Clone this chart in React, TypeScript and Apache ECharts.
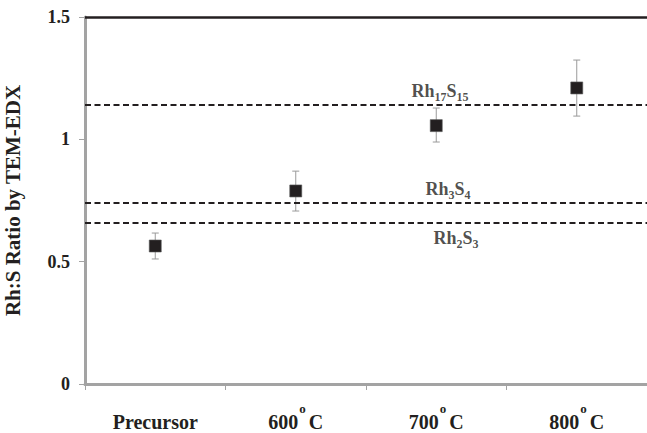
import React, { useEffect, useRef } from "react";
import * as echarts from "echarts";

// Samples on the x axis
const categories = ["Precursor", "600°C", "700°C", "800°C"];
// Measured Rh:S ratio and the ends of each error bar
const ratio = [0.564, 0.789, 1.056, 1.21];
const errLow = [0.511, 0.707, 0.989, 1.095];
const errHigh = [0.617, 0.87, 1.128, 1.324];
// Reference stoichiometries drawn as dashed lines
const phaseNames = ["Rh17S15", "Rh3S4", "Rh2S3"];
const phaseRatios = [1.143, 0.743, 0.658];
// Y axis ticks
const yTicks = { min: 0, max: 1.5, interval: 0.5 };

const SERIF = "'Liberation Serif', 'Times New Roman', serif";
const INK = "#231f20";
const AXIS_GREY = "#a3a3a3";

// "Rh17S15" -> rich text with subscripted digits
function phaseRich(name: string): string {
  return name.replace(/([A-Za-z]+)(\d+)/g, "{m|$1}{s|$2}");
}

// "600°C" -> number with a raised "o" before the C
function categoryRich(name: string): string {
  const parts = name.split("°");
  if (parts.length === 2) return `{n|${parts[0]}}{o|o}{n|${parts[1]}}`;
  return `{n|${name}}`;
}

// where each phase label sits relative to its line
const phaseLabelSide = ["top", "top", "bottom"];
const phaseLabelShift = [74, 82, 90];

export default function App() {
  const ref = useRef<HTMLDivElement>(null);

  useEffect(() => {
    if (!ref.current) return;
    const chart = echarts.init(ref.current, null, { renderer: "svg" });

    const option: any = {
      animation: false,
      backgroundColor: "#ffffff",
      textStyle: { fontFamily: SERIF },
      grid: { left: 85, right: 0, top: 17, bottom: 49, containLabel: false, outerBoundsMode: "none" },
      xAxis: [
        {
          type: "category",
          data: categories,
          boundaryGap: true,
          axisLine: { lineStyle: { color: AXIS_GREY, width: 3 } },
          axisTick: { show: true, length: 6, lineStyle: { color: AXIS_GREY, width: 1 } },
          axisLabel: {
            margin: 18,
            formatter: (v: string) => categoryRich(v),
            rich: {
              n: { fontFamily: SERIF, fontWeight: "bold", fontSize: 20, color: INK, lineHeight: 40 },
              o: {
                fontFamily: SERIF,
                fontWeight: "bold",
                fontSize: 13,
                color: INK,
                lineHeight: 10,
                verticalAlign: "top",
                padding: [0, 3, 0, 1],
              },
            },
          },
          splitLine: { show: false },
        },
        { type: "value", min: 0, max: 1, show: false },
      ],
      yAxis: {
        type: "value",
        min: yTicks.min,
        max: yTicks.max,
        interval: yTicks.interval,
        name: "Rh:S Ratio by TEM-EDX",
        nameLocation: "middle",
        nameGap: 62,
        nameTextStyle: { fontFamily: SERIF, fontWeight: "bold", fontSize: 21, color: INK },
        axisLine: { show: true, lineStyle: { color: AXIS_GREY, width: 3 } },
        axisTick: { show: true, length: 6, lineStyle: { color: AXIS_GREY, width: 1 } },
        axisLabel: {
          margin: 15,
          fontFamily: SERIF,
          fontWeight: "bold",
          fontSize: 18,
          color: INK,
          formatter: (v: number) => String(v),
        },
        splitLine: { show: false },
      },
      series: [
        {
          name: "bounds",
          type: "line",
          data: [],
          markLine: {
            silent: true,
            symbol: "none",
            label: { show: false },
            data: [
              { yAxis: yTicks.max, lineStyle: { type: "solid", color: INK, width: 2.5 } },
              ...phaseRatios.map((r) => ({
                yAxis: r,
                lineStyle: { type: [6, 3.5], color: INK, width: 2 },
              })),
            ],
          },
        },
        {
          name: "error",
          type: "custom",
          data: categories.map((_, i) => [i, errLow[i], errHigh[i]]),
          encode: { x: 0, y: [1, 2] },
          z: 3,
          renderItem: (params: any, api: any) => {
            const lo = api.coord([api.value(0), api.value(1)]);
            const hi = api.coord([api.value(0), api.value(2)]);
            const cap = 3.5;
            const style = { stroke: "#9a9a9a", lineWidth: 1 };
            return {
              type: "group",
              children: [
                { type: "line", shape: { x1: lo[0], y1: lo[1], x2: hi[0], y2: hi[1] }, style },
                { type: "line", shape: { x1: lo[0] - cap, y1: lo[1], x2: lo[0] + cap, y2: lo[1] }, style },
                { type: "line", shape: { x1: hi[0] - cap, y1: hi[1], x2: hi[0] + cap, y2: hi[1] }, style },
              ],
            };
          },
        },
        {
          name: "ratio",
          type: "scatter",
          data: ratio,
          symbol: "rect",
          symbolSize: 12,
          z: 4,
          itemStyle: { color: INK, opacity: 1, borderColor: "#5a5a5a", borderWidth: 0.6 },
        },
        {
          name: "phases",
          type: "scatter",
          xAxisIndex: 1,
          symbolSize: 0,
          silent: true,
          data: phaseRatios.map((r, i) => ({
            value: [0.5, r],
            label: {
              show: true,
              position: phaseLabelSide[i],
              distance: phaseLabelSide[i] === "top" ? 1 : 3,
              offset: [phaseLabelShift[i], 0],
              formatter: phaseRich(phaseNames[i]),
            },
          })),
          label: {
            rich: {
              m: { fontFamily: SERIF, fontWeight: "bold", fontSize: 18, color: INK, lineHeight: 24 },
              s: {
                fontFamily: SERIF,
                fontWeight: "bold",
                fontSize: 12,
                color: INK,
                lineHeight: 12,
                verticalAlign: "bottom",
              },
            },
          },
        },
      ],
    };

    chart.setOption(option);
    return () => chart.dispose();
  }, []);

  return (
    <div
      ref={ref}
      style={{ position: "fixed", left: 0, top: 0, width: 647, height: 433, background: "#fff" }}
    />
  );
}
